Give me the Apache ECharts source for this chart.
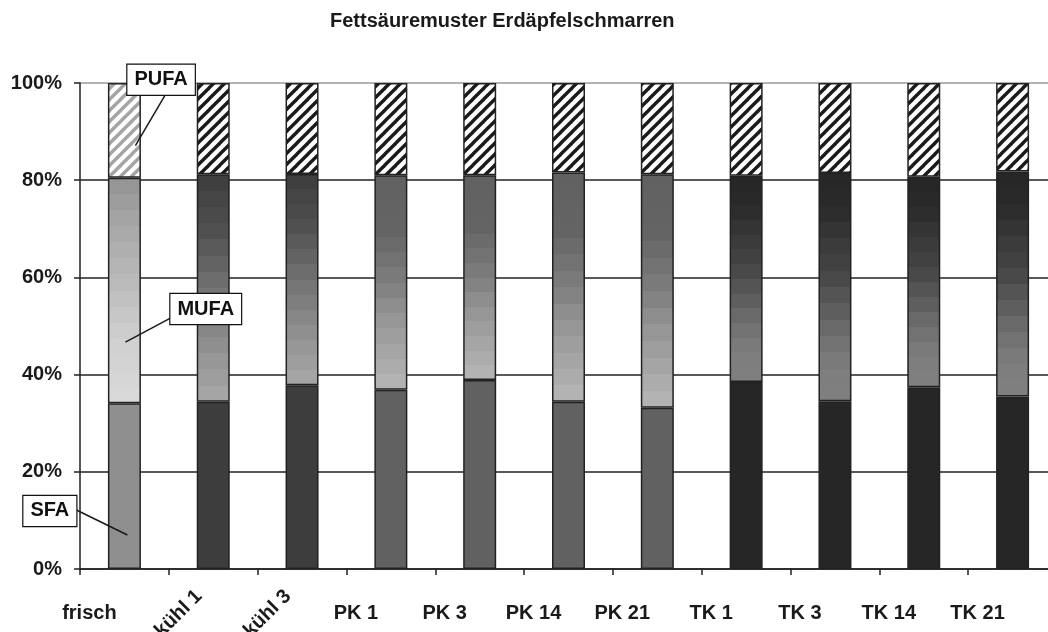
<!DOCTYPE html>
<html>
<head>
<meta charset="utf-8">
<script src="https://cdn.jsdelivr.net/npm/echarts@6/dist/echarts.min.js"></script>
<style>
  html, body { margin: 0; padding: 0; background: #fff; }
  #chart { width: 1048px; height: 632px; }
</style>
</head>
<body>
<div id="chart"></div>
<script>
// Fatty-acid shares (% of total) per sample
const categories = ['frisch', 'kühl 1', 'kühl 3', 'PK 1', 'PK 3', 'PK 14', 'PK 21', 'TK 1', 'TK 3', 'TK 14', 'TK 21'];
const sfa  = [34.1, 34.4, 37.8, 36.9, 38.9, 34.4, 33.2, 38.5, 34.5, 37.4, 35.5];
const mufa = [46.4, 46.8, 43.5, 44.1, 42.1, 47.2, 48.0, 42.4, 47.0, 43.3, 46.3];
const pufa = [19.5, 18.8, 18.7, 19.0, 19.0, 18.4, 18.8, 19.1, 18.5, 19.3, 18.2];
const seriesNames = ['SFA', 'MUFA', 'PUFA'];
const yTickValues = [0, 20, 40, 60, 80, 100];
const rotatedLabels = ['kühl 1', 'kühl 3'];
const titleText = 'Fettsäuremuster Erdäpfelschmarren';

const FONT = '"Liberation Sans", Arial, Helvetica, sans-serif';

// Fill scheme per sample group (prefix of the category name)
const groupStyle = {
  'frisch': { sfa: '#8f8f8f', hatch: '#a4a4a4',
    mufa: [[0, '#939393'], [0.2, '#a6a6a6'], [0.45, '#b9b9b9'], [0.7, '#cfcfcf'], [1, '#dadada']] },
  'kühl': { sfa: '#3d3d3d', hatch: '#1a1a1a',
    mufa: [[0, '#3c3c3c'], [0.25, '#505050'], [0.45, '#6b6b6b'], [0.7, '#8a8a8a'], [1, '#a9a9a9']] },
  'PK': { sfa: '#616161', hatch: '#1a1a1a',
    mufa: [[0, '#616161'], [0.25, '#646464'], [0.45, '#787878'], [0.7, '#999999'], [1, '#b6b6b6']] },
  'TK': { sfa: '#262626', hatch: '#1a1a1a',
    mufa: [[0, '#262626'], [0.15, '#2a2a2a'], [0.45, '#474747'], [0.7, '#6c6c6c'], [0.85, '#7d7d7d'], [1, '#808080']] }
};
const groupOf = name => name.split(' ')[0];

function hexToRgb(h) {
  const n = parseInt(h.slice(1), 16);
  return [(n >> 16) & 255, (n >> 8) & 255, n & 255];
}
function rgbToHex(c) {
  return '#' + c.map(v => Math.round(v).toString(16).padStart(2, '0')).join('');
}
function sampleStops(stops, t) {
  for (let i = 1; i < stops.length; i++) {
    if (t <= stops[i][0]) {
      const [t0, c0] = stops[i - 1], [t1, c1] = stops[i];
      const k = (t - t0) / (t1 - t0 || 1);
      const a = hexToRgb(c0), b = hexToRgb(c1);
      return rgbToHex(a.map((v, j) => v + (b[j] - v) * k));
    }
  }
  return stops[stops.length - 1][1];
}
// Stepped vertical gradient (banded shading)
function bandedGradient(stops, n) {
  const colorStops = [];
  for (let i = 0; i < n; i++) {
    const c = sampleStops(stops, (i + 0.5) / n);
    colorStops.push({ offset: i / n, color: c }, { offset: (i + 1) / n, color: c });
  }
  return { type: 'linear', x: 0, y: 0, x2: 0, y2: 1, colorStops };
}
// Diagonal hatch tile
function hatch(color) {
  const s = 11;
  const c = document.createElement('canvas');
  c.width = s; c.height = s;
  const g = c.getContext('2d');
  g.fillStyle = '#ffffff';
  g.fillRect(0, 0, s, s);
  g.strokeStyle = color;
  g.lineWidth = 3.4;
  for (const off of [-s, 0, s]) {
    g.beginPath();
    g.moveTo(off - 2, s + 2);
    g.lineTo(off + s + 2, -2);
    g.stroke();
  }
  return { image: c, repeat: 'repeat' };
}

const hatchCache = {};
function itemsFor(values, kind) {
  return values.map((v, i) => {
    const st = groupStyle[groupOf(categories[i])];
    let color;
    if (kind === 'sfa') color = st.sfa;
    else if (kind === 'mufa') color = bandedGradient(st.mufa, 14);
    else color = hatchCache[st.hatch] || (hatchCache[st.hatch] = hatch(st.hatch));
    return { value: v, itemStyle: { color } };
  });
}

const barBase = {
  type: 'bar',
  stack: 'total',
  barWidth: 33,
  xAxisIndex: 0,
  yAxisIndex: 0,
  itemStyle: { borderColor: '#222222', borderWidth: 1.5 }
};

const labelFont = { fontFamily: FONT, fontSize: 20, fontWeight: 'bold', color: '#1a1a1a' };

const chart = echarts.init(document.getElementById('chart'), null, { renderer: 'canvas' });
chart.setOption({
  animation: false,
  backgroundColor: '#ffffff',
  title: {
    text: titleText,
    left: 325,
    top: 6,
    textStyle: { fontFamily: FONT, fontSize: 20, fontWeight: 'bold', color: '#1a1a1a' }
  },
  grid: { left: 80, top: 83, width: 977, height: 486, containLabel: false, outerBoundsMode: 'none' },
  xAxis: [
    {
      type: 'category',
      data: categories,
      position: 'bottom',
      axisLine: { show: true, lineStyle: { color: '#222222', width: 1.5 } },
      axisTick: { show: true, length: 6, interval: 0, lineStyle: { color: '#222222', width: 1.5 } },
      axisLabel: Object.assign({
        interval: 0, margin: 34, padding: [0, 70, 0, 0],
        formatter: v => rotatedLabels.includes(v) ? '' : v
      }, labelFont),
      splitLine: { show: false }
    },
    {
      type: 'category',
      data: categories,
      position: 'bottom',
      axisLine: { show: false },
      axisTick: { show: false },
      axisLabel: Object.assign({
        interval: 0, rotate: 45, margin: 10, padding: [0, 20, 0, 0],
        formatter: v => rotatedLabels.includes(v) ? v : ''
      }, labelFont),
      splitLine: { show: false }
    }
  ],
  yAxis: {
    type: 'value',
    min: yTickValues[0],
    max: yTickValues[yTickValues.length - 1],
    interval: yTickValues[1] - yTickValues[0],
    axisLine: { show: true, lineStyle: { color: '#222222', width: 1.5 } },
    axisTick: { show: true, length: 6, lineStyle: { color: '#222222', width: 1.5 } },
    axisLabel: Object.assign({ margin: 18, formatter: '{value}%' }, labelFont),
    splitLine: {
      show: true,
      lineStyle: { color: ['#222222', '#222222', '#222222', '#222222', '#222222', '#9a9a9a'], width: 1.5 }
    }
  },
  series: [
    Object.assign({ name: seriesNames[0], data: itemsFor(sfa, 'sfa') }, barBase),
    Object.assign({ name: seriesNames[1], data: itemsFor(mufa, 'mufa') }, barBase),
    Object.assign({ name: seriesNames[2], data: itemsFor(pufa, 'pufa') }, barBase)
  ]
});

// Boxed series names with leader lines into the first bar
const callouts = [
  { name: seriesNames[2], at: 87.1, dx: 11, box: [-8, -81], from: [30, -51] },
  { name: seriesNames[1], at: 46.7, dx: 1,  box: [45, -48], from: [45, -24] },
  { name: seriesNames[0], at: 7.0,  dx: 3,  box: [-104, -39], from: [-51, -25] }
];
const graphics = [];
callouts.forEach(c => {
  const p = chart.convertToPixel({ xAxisIndex: 0, yAxisIndex: 0 }, [0, c.at]);
  const ax = p[0] + c.dx, ay = p[1];
  graphics.push({
    type: 'line', z: 100,
    shape: { x1: ax + c.from[0], y1: ay + c.from[1], x2: ax, y2: ay },
    style: { stroke: '#1a1a1a', lineWidth: 1.5 }
  });
  graphics.push({
    type: 'text', z: 101,
    x: ax + c.box[0], y: ay + c.box[1],
    style: {
      text: c.name, fontFamily: FONT, fontSize: 20, fontWeight: 'bold', fill: '#111111',
      backgroundColor: '#ffffff', borderColor: '#111111', borderWidth: 1.2,
      padding: [5, 7, 5, 7], align: 'left', verticalAlign: 'top'
    }
  });
});
chart.setOption({ graphic: graphics });
</script>
</body>
</html>
